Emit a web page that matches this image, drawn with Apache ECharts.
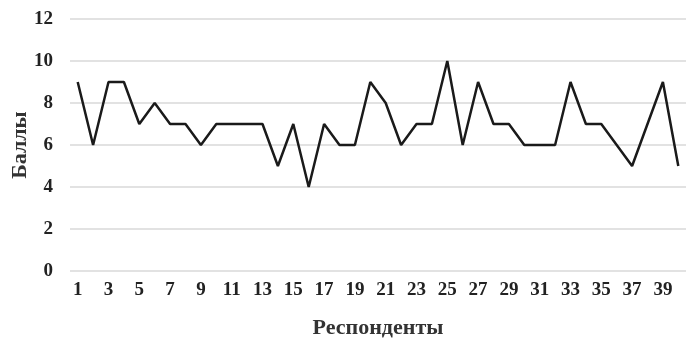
<!DOCTYPE html>
<html><head><meta charset="utf-8">
<script src="https://cdn.jsdelivr.net/npm/echarts@6/dist/echarts.min.js"></script>
<style>html,body{margin:0;padding:0;background:#fff}#c{width:696px;height:349px}</style>
</head><body><div id="c"></div>
<script>
var categories = [];
for (var i = 1; i <= 40; i++) categories.push(String(i));
var scores = [9,6,9,9,7,8,7,7,6,7,7,7,7,5,7,4,7,6,6,9,8,6,7,7,10,6,9,7,7,6,6,6,9,7,7,6,5,7,9,5];
var yTicks = {min:0, max:12, interval:2};
var chart = echarts.init(document.getElementById('c'));
var font = '"Liberation Serif", "Times New Roman", serif';
chart.setOption({
  animation:false,
  grid:{left:70, right:10, top:19, bottom:78, containLabel:false, outerBoundsMode:'none'},
  xAxis:{type:'category', data:categories, boundaryGap:true,
    axisLine:{show:false}, axisTick:{show:false},
    axisLabel:{interval:1, color:'#222', fontFamily:font, fontWeight:'bold', fontSize:19, margin:10},
    name:'Респонденты', nameLocation:'middle', nameGap:46, nameMoveOverlap:false,
    nameTextStyle:{color:'#333', fontFamily:font, fontWeight:'bold', fontSize:22}},
  yAxis:{type:'value', min:yTicks.min, max:yTicks.max, interval:yTicks.interval,
    axisLine:{show:false}, axisTick:{show:false},
    splitLine:{lineStyle:{color:'#d9d9d9', width:1.5}},
    axisLabel:{color:'#222', fontFamily:font, fontWeight:'bold', fontSize:19, margin:17},
    name:'Баллы', nameLocation:'middle', nameGap:39, nameMoveOverlap:false,
    nameTextStyle:{color:'#333', fontFamily:font, fontWeight:'bold', fontSize:22}},
  series:[{type:'line', data:scores, symbol:'none', lineStyle:{color:'#1a1a1a', width:2.5}}]
});
</script></body></html>
